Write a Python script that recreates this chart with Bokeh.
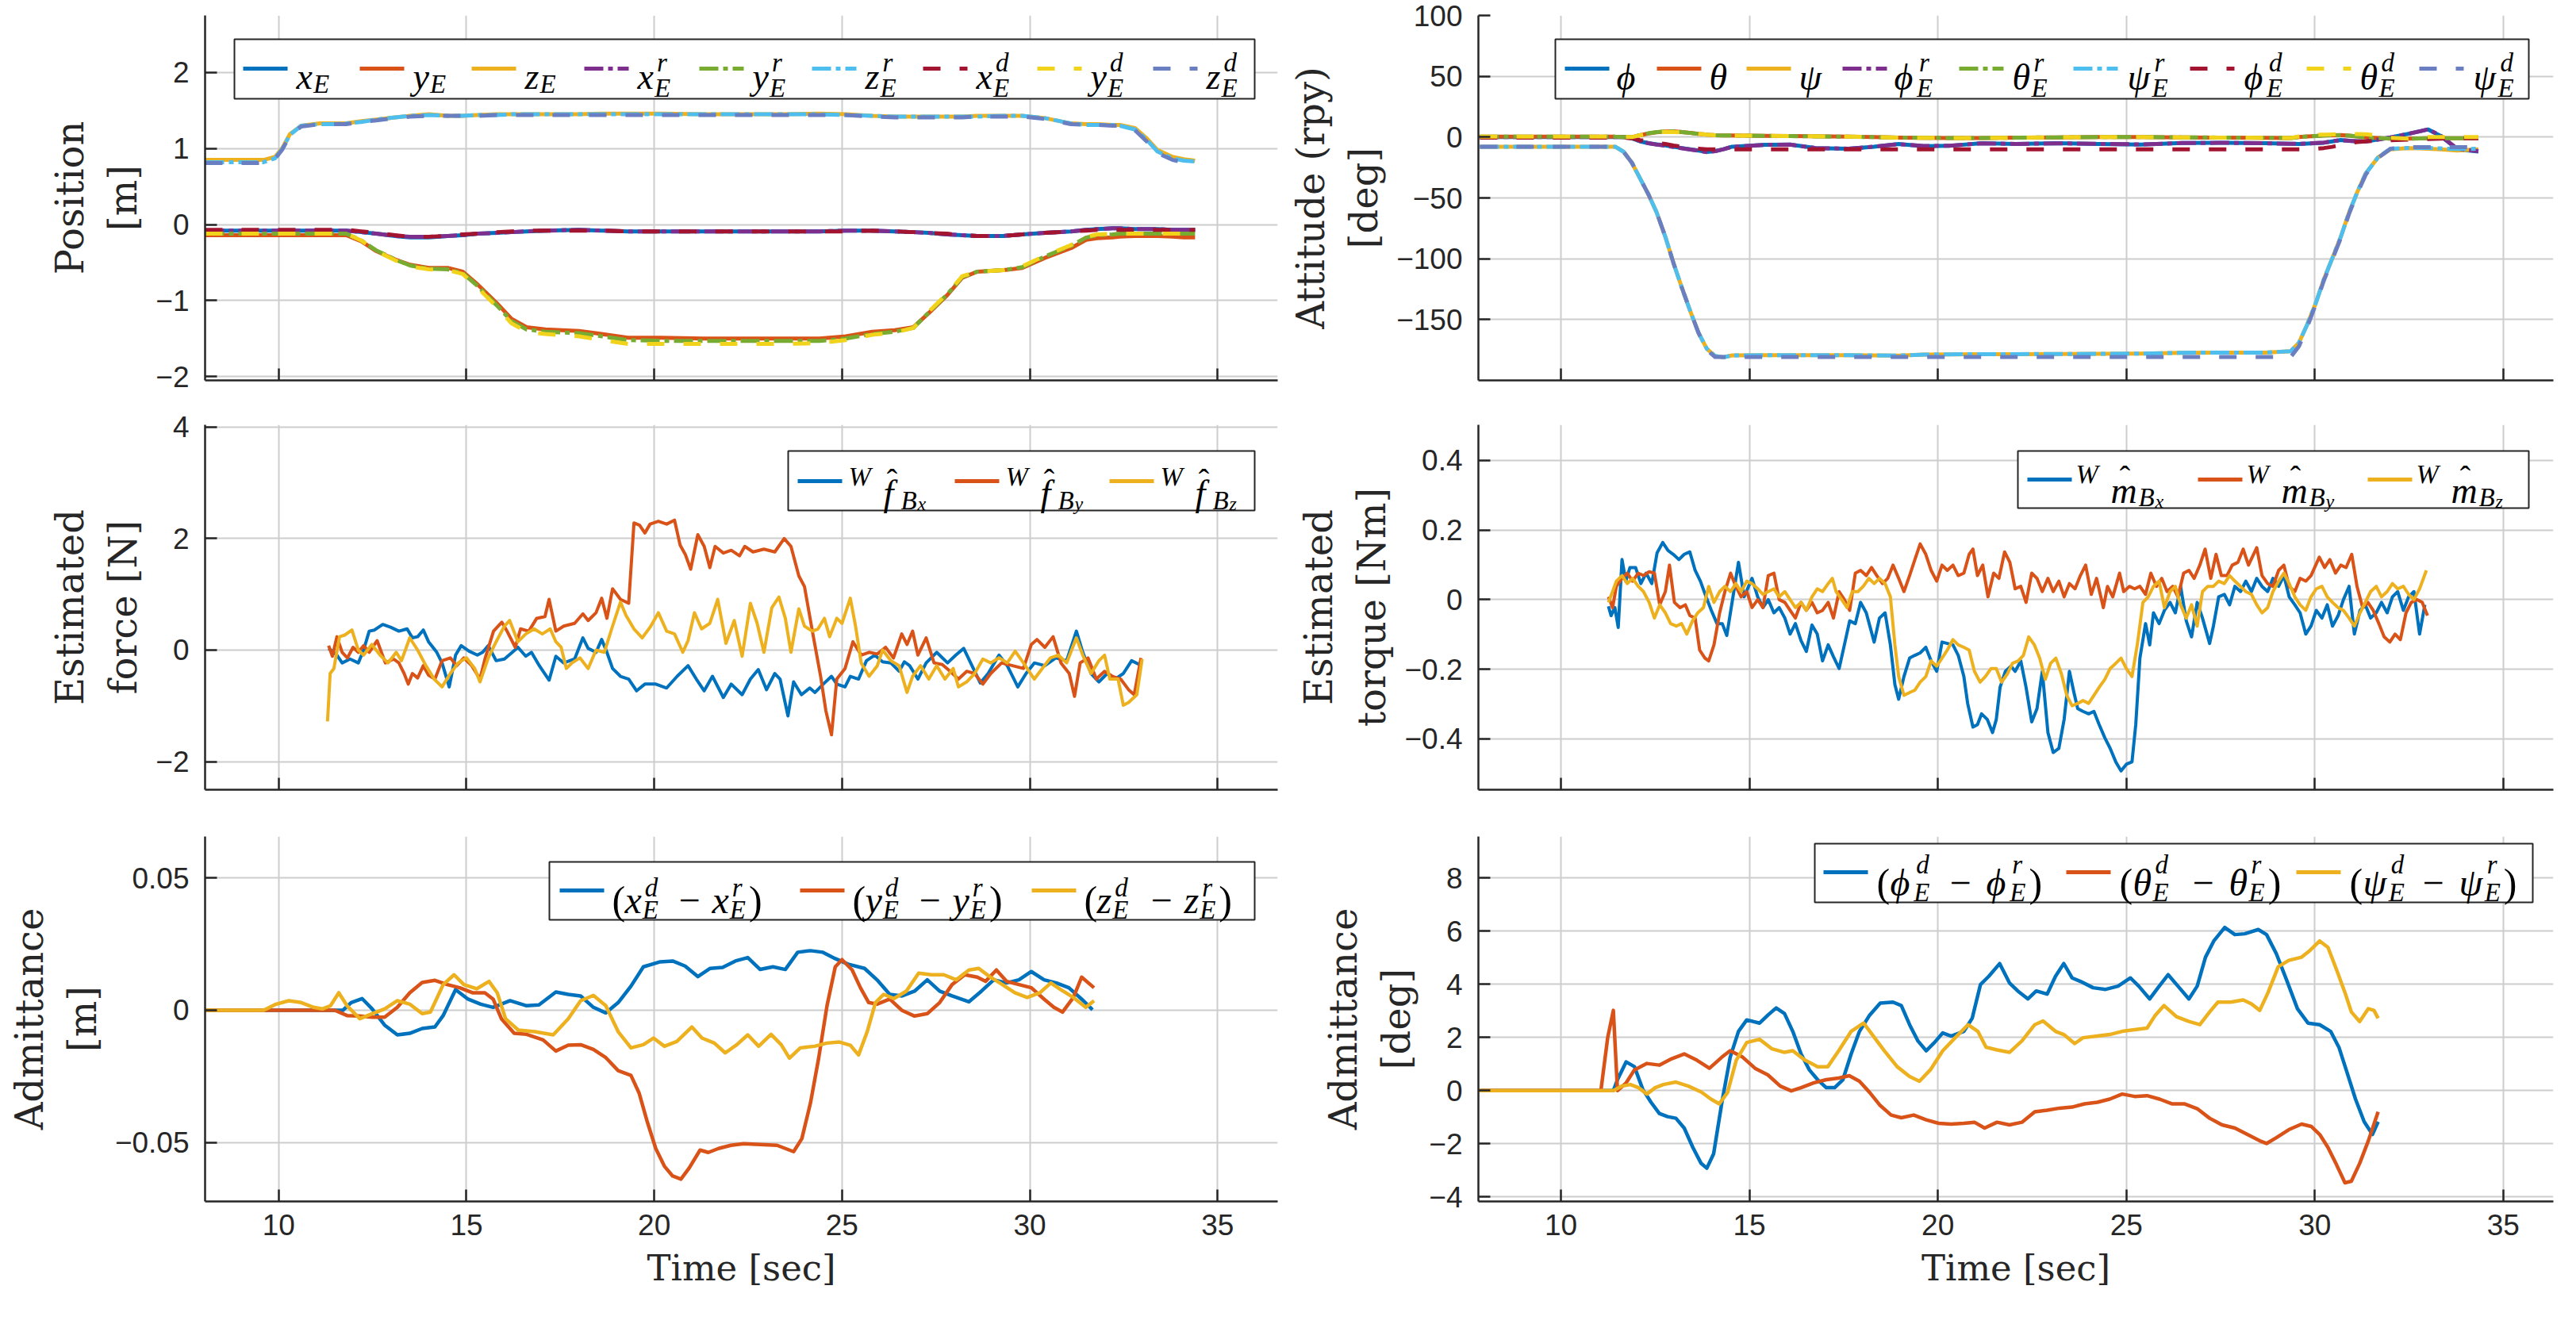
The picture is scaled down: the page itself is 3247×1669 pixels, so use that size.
from bokeh.plotting import figure
from bokeh.layouts import gridplot
from bokeh.models import FixedTicker, BoxAnnotation, Label, Arrow, Range1d
from bokeh.embed import file_html
from bokeh.resources import INLINE

BLUE, ORANGE, YELLOW = "#0072BD", "#D95319", "#EDB120"
PURPLE, GREEN, CYAN = "#7E2F8E", "#77AC30", "#4DBEEE"
DRED, BYELLOW, PERI = "#A2142F", "#F2D31B", "#6A7EC2"
AXC = "#262626"
GRIDC = "#cdcdcd"
DASH_R = "24 6 6 6"
DASH_D = "22 24"

time_ticks = [10, 15, 20, 25, 30, 35]

# ---------------- Position (top-left) ----------------
t_pos = [8.04, 9.6, 9.9, 10.1, 10.3, 10.6, 11.1, 11.5, 11.8, 12.2, 12.6, 13.1, 13.5, 14.0, 14.5, 14.9, 15.3,
         15.8, 16.2, 16.6, 17.1, 18.0, 18.6, 19.3, 20.2, 21.3, 22.4, 23.5, 24.4, 25.1, 25.8, 26.4, 26.9, 27.3,
         27.8, 28.2, 28.6, 29.3, 29.8, 30.4, 31.1, 31.5, 31.8, 32.2, 32.4, 32.8, 33.1, 33.4, 33.8, 34.1, 34.4]
x_E = [-0.08, -0.08, -0.08, -0.08, -0.08, -0.08, -0.08, -0.08, -0.08, -0.10, -0.12, -0.15, -0.17, -0.17, -0.15,
       -0.14, -0.12, -0.11, -0.10, -0.09, -0.08, -0.07, -0.08, -0.09, -0.09, -0.09, -0.09, -0.09, -0.09, -0.08,
       -0.08, -0.09, -0.10, -0.11, -0.13, -0.14, -0.15, -0.15, -0.13, -0.11, -0.09, -0.07, -0.06, -0.05, -0.05,
       -0.06, -0.06, -0.06, -0.07, -0.07, -0.07]
y_E = [-0.14, -0.14, -0.14, -0.14, -0.14, -0.14, -0.14, -0.14, -0.14, -0.22, -0.35, -0.46, -0.53, -0.57, -0.57,
       -0.62, -0.79, -1.03, -1.24, -1.35, -1.38, -1.40, -1.44, -1.49, -1.49, -1.50, -1.50, -1.50, -1.50, -1.47,
       -1.41, -1.39, -1.35, -1.17, -0.93, -0.70, -0.62, -0.60, -0.57, -0.44, -0.31, -0.20, -0.18, -0.17, -0.16,
       -0.15, -0.15, -0.15, -0.16, -0.17, -0.17]
z_E = [0.85, 0.85, 0.89, 1.01, 1.19, 1.30, 1.33, 1.33, 1.33, 1.36, 1.38, 1.41, 1.43, 1.45, 1.43, 1.43, 1.44,
       1.45, 1.45, 1.45, 1.45, 1.45, 1.46, 1.46, 1.46, 1.45, 1.45, 1.45, 1.46, 1.45, 1.43, 1.42, 1.42, 1.42,
       1.42, 1.42, 1.43, 1.43, 1.43, 1.40, 1.33, 1.32, 1.32, 1.31, 1.31, 1.27, 1.14, 0.98, 0.89, 0.86, 0.84]
x_r = [-0.08, -0.08, -0.08, -0.08, -0.08, -0.08, -0.08, -0.08, -0.08, -0.10, -0.12, -0.15, -0.16, -0.16, -0.15,
       -0.14, -0.12, -0.11, -0.10, -0.09, -0.08, -0.07, -0.08, -0.09, -0.09, -0.09, -0.09, -0.09, -0.09, -0.08,
       -0.08, -0.09, -0.10, -0.11, -0.13, -0.14, -0.15, -0.15, -0.13, -0.11, -0.09, -0.07, -0.06, -0.05, -0.05,
       -0.06, -0.06, -0.06, -0.07, -0.07, -0.07]
y_r = [-0.12, -0.12, -0.12, -0.12, -0.12, -0.12, -0.12, -0.12, -0.12, -0.21, -0.34, -0.46, -0.54, -0.58, -0.59,
       -0.64, -0.81, -1.06, -1.27, -1.38, -1.41, -1.43, -1.47, -1.52, -1.53, -1.53, -1.53, -1.53, -1.53, -1.50,
       -1.44, -1.41, -1.36, -1.16, -0.92, -0.69, -0.62, -0.60, -0.56, -0.42, -0.28, -0.17, -0.14, -0.13, -0.12,
       -0.12, -0.12, -0.12, -0.12, -0.12, -0.12]
z_r = [0.82, 0.82, 0.87, 1.00, 1.18, 1.30, 1.32, 1.32, 1.33, 1.35, 1.38, 1.41, 1.43, 1.44, 1.43, 1.43, 1.44,
       1.44, 1.45, 1.45, 1.45, 1.45, 1.45, 1.45, 1.45, 1.45, 1.45, 1.45, 1.45, 1.44, 1.43, 1.42, 1.42, 1.42,
       1.42, 1.42, 1.42, 1.43, 1.43, 1.40, 1.33, 1.31, 1.31, 1.31, 1.30, 1.25, 1.12, 0.96, 0.87, 0.84, 0.83]
x_d = [-0.07, -0.07, -0.07, -0.07, -0.07, -0.07, -0.07, -0.07, -0.07, -0.09, -0.11, -0.14, -0.16, -0.16, -0.15,
       -0.13, -0.12, -0.10, -0.09, -0.08, -0.08, -0.08, -0.08, -0.09, -0.09, -0.09, -0.09, -0.09, -0.09, -0.09,
       -0.08, -0.09, -0.10, -0.11, -0.12, -0.14, -0.15, -0.15, -0.13, -0.11, -0.09, -0.08, -0.07, -0.07, -0.07,
       -0.07, -0.07, -0.07, -0.07, -0.07, -0.07]
y_d = [-0.12, -0.12, -0.12, -0.12, -0.12, -0.12, -0.12, -0.12, -0.12, -0.21, -0.35, -0.47, -0.55, -0.59, -0.60,
       -0.65, -0.83, -1.08, -1.30, -1.41, -1.44, -1.47, -1.52, -1.57, -1.57, -1.57, -1.57, -1.57, -1.56, -1.52,
       -1.45, -1.42, -1.36, -1.15, -0.91, -0.68, -0.62, -0.60, -0.55, -0.41, -0.27, -0.16, -0.13, -0.12, -0.12,
       -0.12, -0.12, -0.12, -0.12, -0.12, -0.12]
z_d = [0.81, 0.81, 0.86, 0.99, 1.17, 1.29, 1.32, 1.32, 1.32, 1.35, 1.37, 1.40, 1.42, 1.43, 1.43, 1.43, 1.43,
       1.44, 1.44, 1.44, 1.44, 1.44, 1.44, 1.44, 1.44, 1.44, 1.44, 1.44, 1.44, 1.44, 1.42, 1.41, 1.41, 1.41,
       1.41, 1.41, 1.42, 1.42, 1.42, 1.39, 1.32, 1.31, 1.31, 1.30, 1.30, 1.24, 1.10, 0.94, 0.85, 0.82, 0.80]

# ---------------- Attitude (top-right) ----------------
t_att = [7.85, 11.44, 11.66, 11.88, 12.1, 12.32, 12.54, 12.77, 12.99, 13.21, 13.43, 13.65, 13.87, 14.09, 14.31,
         14.54, 15.42, 16.08, 16.75, 17.63, 18.3, 18.96, 19.62, 20.29, 21.17, 22.06, 23.16, 24.27, 25.38, 26.48,
         27.59, 28.69, 29.36, 29.58, 29.8, 30.02, 30.24, 30.46, 30.69, 30.91, 31.13, 31.35, 31.68, 32.01, 32.46,
         33.01, 33.34, 33.78, 34.34]
phi = [0, 0, 0, -1, -3.5, -5, -6, -6.8, -8, -9, -10, -11, -12.2, -11.5, -10, -7.9, -6.3, -6.1, -9, -9.6, -7.9,
       -5.7, -7.4, -7.2, -5, -5.7, -5, -5.7, -6.1, -4.8, -4.6, -5, -5.5, -5.7, -5.4, -5, -4.6, -3.5, -2.4, -3,
       -3.5, -3.5, -2, -0.2, 2.6, 6.3, 0.9, -10, -11.8]
theta = [0.3, 0.3, 0, 0, 1.5, 3, 4, 4.6, 4.8, 4.2, 3.5, 2.6, 2, 1.6, 1.4, 1.3, 1.0, 0.8, 0.7, 0.3, 0, -0.4, -0.6,
         -0.7, -0.7, -0.5, -0.2, 0, 0, -0.2, -0.4, -0.6, -0.7, 0, 0.5, 0.9, 1.3, 1.6, 1.7, 1.2, 0.5, -0.2, -0.8,
         -1.3, -1.3, -0.9, -0.9, -0.9, -0.9]
psi = [-7.9, -7.9, -12, -21, -34, -47, -62, -82, -104, -124, -143, -161, -174, -180, -181, -179.5, -179.3,
       -179.3, -179.3, -179.3, -179.5, -179.6, -178.8, -178.6, -178.5, -178.4, -178.3, -178.2, -178, -177.3,
       -177.1, -177.1, -176, -169, -154, -137, -117, -100, -82, -62, -45, -30, -16.6, -10, -9, -9.5, -10, -11, -10]
phi_r = [0, 0, 0, -1, -3.3, -5, -6.2, -7, -8.2, -9.2, -10.2, -11.2, -12.4, -11.6, -10, -8, -6.4, -6.2, -9,
         -9.5, -7.8, -5.8, -7.3, -7.1, -5.1, -5.6, -5.1, -5.6, -6, -4.9, -4.7, -5.1, -5.5, -5.6, -5.3, -4.9,
         -4.5, -3.4, -2.5, -3.1, -3.4, -3.4, -2.1, -0.3, 2.5, 6.4, 1.2, -9.6, -11.5]
theta_r = [0.3, 0.3, 0, 0.1, 1.6, 3.1, 4.1, 4.7, 4.8, 4.2, 3.4, 2.6, 2, 1.6, 1.4, 1.3, 1.0, 0.8, 0.6, 0.3, 0,
           -0.4, -0.6, -0.7, -0.7, -0.5, -0.2, 0, 0, -0.2, -0.4, -0.6, -0.7, 0, 0.5, 0.9, 1.3, 1.6, 1.6, 1.2,
           0.5, -0.2, -0.8, -1.3, -1.3, -0.9, -0.9, -0.9, -0.9]
psi_r = [-7.9, -7.9, -12, -21, -34, -47, -62, -82, -104, -124, -143, -161, -174, -180, -181, -179.5, -179.3,
         -179.3, -179.3, -179.3, -179.5, -179.6, -178.8, -178.6, -178.5, -178.4, -178.3, -178.2, -178, -177.3,
         -177.1, -177.1, -176, -169, -154, -137, -117, -100, -82, -62, -45, -30, -16.6, -9.5, -8.9, -8.9, -9.3,
         -9.8, -9.6]
phi_d = [-0.5, -0.5, -0.5, -1, -2.5, -3.5, -4.5, -5.7, -7, -8, -9, -9.5, -10, -10, -10, -10, -10, -10, -10, -10,
         -10, -10, -10, -10, -10, -10, -10, -10, -10, -10, -10, -10, -10, -10, -10, -9.5, -9, -8, -6.5, -5, -4,
         -3.5, -3, -2.5, -2, -1.5, -1.2, -1, -1]
theta_d = [0.3, 0.3, 0, 0, 1.5, 3, 4, 4.3, 4.1, 3.8, 3.3, 2.6, 2, 1.6, 1.4, 1.3, 1.0, 0.8, 0.7, 0.3, 0, -0.4,
           -0.6, -0.7, -0.7, -0.5, -0.2, 0, 0, -0.2, -0.4, -0.6, -0.7, 0.5, 1.5, 2, 2, 2.2, 2.4, 2.5, 2.5, 2.3,
           1.5, -0.5, -1.3, 0, 0, 0, 0]
psi_d = [-7.9, -7.9, -12, -21, -34, -47, -62, -82, -104, -124, -143, -161, -175, -180.8, -180.8, -180.8, -180.8,
         -180.8, -180.8, -180.8, -180.8, -180.8, -180.8, -180.8, -180.8, -180.8, -180.8, -180.8, -180.8, -180.8,
         -180.8, -180.8, -180.8, -172, -156, -138, -118, -101, -83, -63, -46, -31, -17, -9.5, -8.3, -8.3, -8.3,
         -8.3, -8.3]

# ---------------- Estimated force (middle-left): (time, value) ----------------
force_x = [(11.33, 0.03), (11.55, -0.09), (11.69, -0.23), (11.90, -0.16), (12.12, -0.23), (12.26, 0.00),
           (12.41, 0.34), (12.55, 0.36), (12.77, 0.46), (12.98, 0.41), (13.20, 0.34), (13.42, 0.38),
           (13.56, 0.22), (13.70, 0.24), (13.85, 0.36), (13.99, 0.15), (14.21, -0.04), (14.35, -0.23),
           (14.54, -0.66), (14.71, -0.09), (14.86, 0.08), (15.07, -0.02), (15.29, -0.09), (15.43, -0.04),
           (15.58, 0.08), (15.79, -0.19), (16.01, -0.16), (16.22, -0.04), (16.37, 0.05), (16.58, -0.11),
           (16.73, -0.04), (16.94, -0.28), (17.20, -0.54), (17.38, -0.11), (17.59, -0.23), (17.88, -0.16),
           (18.10, 0.22), (18.24, 0.03), (18.45, -0.04), (18.60, 0.19), (18.74, -0.04), (18.89, -0.33),
           (19.10, -0.47), (19.32, -0.52), (19.53, -0.73), (19.75, -0.61), (20.04, -0.61), (20.33, -0.68),
           (20.61, -0.47), (20.90, -0.28), (21.12, -0.52), (21.33, -0.73), (21.55, -0.47), (21.84, -0.85),
           (22.05, -0.61), (22.34, -0.80), (22.56, -0.52), (22.77, -0.35), (22.99, -0.71), (23.21, -0.42),
           (23.35, -0.52), (23.56, -1.18), (23.71, -0.57), (23.92, -0.80), (24.14, -0.68), (24.28, -0.76),
           (24.50, -0.61), (24.72, -0.47), (24.86, -0.61), (25.08, -0.66), (25.22, -0.47), (25.44, -0.52),
           (25.65, -0.19), (25.87, -0.09), (26.08, -0.21), (26.30, -0.23), (26.52, -0.38), (26.66, -0.21),
           (26.80, -0.28), (27.02, -0.52), (27.24, -0.23), (27.52, -0.04), (27.81, -0.23), (28.03, -0.09),
           (28.24, 0.03), (28.46, -0.28), (28.68, -0.59), (28.89, -0.42), (29.18, -0.09), (29.40, -0.28),
           (29.68, -0.66), (29.90, -0.42), (30.12, -0.23), (30.40, -0.28), (30.69, -0.14), (30.98, -0.19),
           (31.24, 0.34), (31.41, -0.04), (31.63, -0.42), (31.84, -0.57), (32.06, -0.42), (32.27, -0.52),
           (32.49, -0.42), (32.71, -0.19), (32.92, -0.26)]
force_y = [(11.33, 0.08), (11.43, -0.11), (11.55, 0.24), (11.69, -0.04), (11.83, -0.14), (11.98, 0.05),
           (12.12, -0.04), (12.26, 0.08), (12.41, -0.04), (12.62, 0.17), (12.84, -0.23), (13.06, -0.16),
           (13.20, -0.23), (13.34, -0.42), (13.45, -0.61), (13.56, -0.42), (13.70, -0.50), (13.85, -0.28),
           (13.99, -0.45), (14.16, -0.52), (14.35, -0.19), (14.57, -0.14), (14.74, -0.28), (14.93, -0.14),
           (15.14, -0.28), (15.36, -0.52), (15.50, -0.14), (15.72, 0.34), (15.94, 0.50), (16.08, 0.34),
           (16.30, 0.05), (16.44, 0.38), (16.66, 0.34), (16.87, 0.57), (17.09, 0.60), (17.20, 0.91),
           (17.38, 0.34), (17.59, 0.43), (17.88, 0.48), (18.10, 0.65), (18.24, 0.53), (18.45, 0.67),
           (18.60, 0.93), (18.74, 0.57), (18.89, 1.10), (19.10, 0.91), (19.32, 0.84), (19.46, 2.28),
           (19.61, 2.24), (19.75, 2.10), (19.89, 2.26), (20.11, 2.31), (20.33, 2.26), (20.54, 2.33),
           (20.69, 1.88), (20.83, 1.71), (20.97, 1.45), (21.16, 2.07), (21.33, 1.86), (21.48, 1.48),
           (21.62, 1.86), (21.84, 1.74), (22.05, 1.79), (22.27, 1.69), (22.41, 1.86), (22.63, 1.76),
           (22.92, 1.81), (23.21, 1.76), (23.46, 2.00), (23.64, 1.86), (23.85, 1.33), (24.00, 1.14),
           (24.21, 0.34), (24.43, -0.47), (24.57, -1.09), (24.72, -1.52), (24.86, -0.52), (25.08, -0.33),
           (25.29, 0.15), (25.51, -0.09), (25.72, -0.04), (25.94, -0.07), (26.16, 0.05), (26.37, -0.14),
           (26.59, 0.29), (26.73, 0.10), (26.88, 0.34), (27.02, -0.09), (27.24, 0.22), (27.45, -0.23),
           (27.67, -0.26), (27.88, -0.38), (28.10, -0.52), (28.32, -0.38), (28.53, -0.42), (28.75, -0.61),
           (28.96, -0.42), (29.25, -0.23), (29.54, -0.28), (29.83, -0.33), (30.04, 0.10), (30.19, 0.19),
           (30.40, 0.05), (30.62, 0.24), (30.83, -0.23), (31.05, -0.42), (31.19, -0.83), (31.34, -0.23),
           (31.55, -0.14), (31.77, -0.52), (31.99, -0.38), (32.20, -0.47), (32.42, -0.52), (32.63, -0.71),
           (32.78, -0.80), (32.96, -0.14)]
force_z = [(11.30, -1.28), (11.37, -0.42), (11.47, -0.33), (11.62, 0.24), (11.76, 0.27), (11.95, 0.36),
           (12.12, 0.00), (12.26, -0.09), (12.48, 0.10), (12.70, -0.09), (12.91, -0.23), (13.13, -0.04),
           (13.27, -0.19), (13.49, 0.22), (13.70, 0.00), (13.92, -0.28), (14.14, -0.52), (14.35, -0.66),
           (14.57, -0.42), (14.78, -0.23), (15.00, -0.14), (15.22, -0.33), (15.36, -0.57), (15.58, -0.14),
           (15.79, 0.15), (16.01, 0.43), (16.15, 0.53), (16.37, 0.15), (16.58, 0.29), (16.80, 0.38),
           (17.02, 0.29), (17.23, 0.38), (17.38, 0.15), (17.52, 0.05), (17.66, -0.33), (17.81, -0.23),
           (18.02, -0.14), (18.24, -0.33), (18.45, 0.00), (18.67, -0.04), (18.89, 0.43), (19.10, 0.86),
           (19.25, 0.62), (19.46, 0.38), (19.68, 0.22), (19.89, 0.41), (20.11, 0.67), (20.33, 0.34),
           (20.54, 0.29), (20.76, -0.04), (20.90, 0.17), (21.07, 0.67), (21.26, 0.38), (21.48, 0.48),
           (21.69, 0.91), (21.91, 0.12), (22.13, 0.53), (22.34, -0.11), (22.56, 0.84), (22.74, 0.48),
           (22.92, -0.04), (23.13, 0.76), (23.32, 0.95), (23.49, 0.57), (23.64, -0.04), (23.85, 0.74),
           (24.00, 0.43), (24.21, 0.34), (24.36, 0.38), (24.53, 0.57), (24.67, 0.24), (24.86, 0.57),
           (25.00, 0.48), (25.22, 0.93), (25.36, 0.43), (25.51, -0.23), (25.72, -0.47), (25.94, -0.28),
           (26.08, 0.00), (26.30, -0.19), (26.52, -0.28), (26.73, -0.76), (26.88, -0.47), (27.09, -0.28),
           (27.31, -0.52), (27.52, -0.28), (27.74, -0.52), (27.96, -0.33), (28.10, -0.66), (28.32, -0.57),
           (28.53, -0.42), (28.75, -0.16), (28.96, -0.23), (29.18, -0.14), (29.40, -0.23), (29.61, -0.02),
           (29.83, -0.23), (30.12, -0.52), (30.33, -0.33), (30.55, -0.14), (30.76, -0.09), (30.98, -0.23),
           (31.24, 0.22), (31.41, -0.09), (31.63, -0.42), (31.84, -0.19), (31.99, -0.09), (32.13, -0.52),
           (32.35, -0.52), (32.49, -0.99), (32.63, -0.94), (32.85, -0.80), (32.99, -0.16)]

# ---------------- Estimated torque (middle-right): (time, value) ----------------
torque_x = [(11.26, -0.019), (11.33, -0.046), (11.43, -0.023), (11.52, -0.080), (11.62, 0.115), (11.72, 0.053),
            (11.83, 0.092), (11.98, 0.092), (12.12, 0.046), (12.26, 0.076), (12.41, 0.046), (12.55, 0.134),
            (12.70, 0.164), (12.84, 0.141), (12.98, 0.130), (13.13, 0.115), (13.27, 0.130), (13.42, 0.137),
            (13.56, 0.084), (13.70, 0.053), (13.85, 0.008), (13.99, -0.031), (14.14, -0.069), (14.28, -0.069),
            (14.40, -0.103), (14.54, -0.008), (14.71, 0.107), (14.86, 0.008), (15.07, 0.061), (15.22, 0.008),
            (15.36, -0.023), (15.50, 0.000), (15.65, -0.038), (15.79, -0.023), (15.94, -0.053), (16.08, -0.099),
            (16.22, -0.069), (16.37, -0.118), (16.51, -0.149), (16.66, -0.073), (16.80, -0.099), (16.94, -0.176),
            (17.09, -0.130), (17.23, -0.164), (17.38, -0.198), (17.52, -0.130), (17.66, -0.061), (17.81, -0.069),
            (17.95, -0.008), (18.10, -0.038), (18.31, -0.122), (18.45, -0.053), (18.60, -0.038), (18.74, -0.130),
            (18.86, -0.244), (18.96, -0.286), (19.10, -0.221), (19.25, -0.168), (19.39, -0.160), (19.53, -0.153),
            (19.68, -0.137), (19.82, -0.176), (19.97, -0.206), (20.11, -0.122), (20.25, -0.126), (20.40, -0.130),
            (20.54, -0.160), (20.69, -0.221), (20.79, -0.298), (20.93, -0.366), (21.05, -0.359), (21.16, -0.328),
            (21.31, -0.344), (21.45, -0.382), (21.55, -0.344), (21.65, -0.252), (21.79, -0.206), (21.94, -0.191),
            (22.05, -0.206), (22.20, -0.176), (22.34, -0.252), (22.49, -0.351), (22.63, -0.313), (22.77, -0.206),
            (22.92, -0.382), (23.06, -0.439), (23.21, -0.427), (23.35, -0.344), (23.49, -0.206), (23.61, -0.267),
            (23.71, -0.313), (23.85, -0.321), (24.00, -0.328), (24.14, -0.321), (24.28, -0.359), (24.43, -0.397),
            (24.57, -0.427), (24.72, -0.466), (24.86, -0.492), (25.00, -0.473), (25.15, -0.466), (25.25, -0.359),
            (25.36, -0.168), (25.51, -0.069), (25.62, -0.130), (25.72, -0.038), (25.87, -0.069), (26.01, -0.031),
            (26.16, -0.008), (26.30, -0.038), (26.44, 0.038), (26.59, -0.061), (26.73, -0.107), (26.88, -0.008),
            (27.02, -0.053), (27.21, -0.126), (27.31, -0.076), (27.45, 0.008), (27.60, 0.015), (27.74, -0.015),
            (27.88, 0.038), (28.03, 0.023), (28.17, 0.053), (28.32, 0.023), (28.46, 0.061), (28.60, 0.038),
            (28.75, 0.023), (28.89, 0.061), (29.04, 0.038), (29.18, 0.069), (29.32, 0.008), (29.47, -0.015),
            (29.61, -0.038), (29.76, -0.099), (29.90, -0.076), (30.04, -0.031), (30.19, -0.053), (30.33, -0.015),
            (30.47, -0.076), (30.62, -0.046), (30.76, 0.000), (30.91, 0.038), (31.05, -0.099), (31.20, -0.031),
            (31.34, -0.015), (31.48, -0.053), (31.63, -0.038), (31.77, -0.008), (31.92, -0.038), (32.06, 0.008),
            (32.20, 0.023), (32.35, -0.031), (32.49, 0.008), (32.63, 0.023), (32.78, -0.099), (32.92, -0.015)]
torque_y = [(11.26, 0.008), (11.37, -0.023), (11.47, 0.038), (11.62, 0.061), (11.76, 0.076), (11.90, 0.053),
            (12.05, 0.076), (12.19, 0.069), (12.34, 0.080), (12.48, 0.076), (12.62, -0.015), (12.77, 0.023),
            (12.88, 0.099), (13.01, -0.008), (13.16, -0.023), (13.30, -0.015), (13.42, -0.046), (13.56, -0.053),
            (13.68, -0.145), (13.82, -0.168), (13.92, -0.176), (14.06, -0.130), (14.21, -0.038), (14.35, 0.023),
            (14.50, 0.076), (14.64, 0.038), (14.78, 0.008), (14.93, 0.023), (15.07, -0.023), (15.22, 0.000),
            (15.36, -0.023), (15.50, 0.069), (15.65, 0.076), (15.79, 0.000), (15.94, -0.008), (16.08, -0.031),
            (16.22, -0.053), (16.37, -0.008), (16.51, -0.031), (16.66, -0.008), (16.80, -0.038), (16.94, -0.031),
            (17.09, -0.008), (17.23, -0.053), (17.38, 0.023), (17.52, 0.000), (17.66, -0.031), (17.81, 0.076),
            (17.95, 0.084), (18.10, 0.069), (18.24, 0.092), (18.38, 0.069), (18.53, 0.046), (18.67, 0.061),
            (18.81, 0.099), (18.96, 0.061), (19.10, 0.023), (19.25, 0.069), (19.39, 0.115), (19.53, 0.160),
            (19.68, 0.130), (19.82, 0.084), (19.97, 0.053), (20.11, 0.099), (20.25, 0.084), (20.40, 0.099),
            (20.54, 0.069), (20.69, 0.076), (20.83, 0.130), (20.93, 0.145), (21.05, 0.069), (21.19, 0.099),
            (21.33, 0.008), (21.48, 0.076), (21.62, 0.061), (21.77, 0.137), (21.91, 0.107), (22.05, 0.031),
            (22.20, 0.038), (22.34, -0.008), (22.49, 0.076), (22.63, 0.061), (22.77, 0.023), (22.92, 0.061),
            (23.06, 0.023), (23.21, 0.053), (23.35, 0.008), (23.49, 0.046), (23.64, 0.031), (23.78, 0.069),
            (23.92, 0.099), (24.07, 0.015), (24.21, 0.061), (24.39, -0.023), (24.50, 0.038), (24.64, 0.008),
            (24.82, 0.076), (24.93, 0.023), (25.08, 0.038), (25.22, 0.031), (25.36, 0.038), (25.51, 0.015),
            (25.65, 0.076), (25.80, 0.038), (25.94, 0.061), (26.08, 0.023), (26.23, 0.038), (26.37, 0.008),
            (26.52, 0.076), (26.66, 0.084), (26.80, 0.061), (26.95, 0.099), (27.09, 0.145), (27.24, 0.061),
            (27.38, 0.130), (27.52, 0.069), (27.67, 0.069), (27.81, 0.099), (27.96, 0.107), (28.10, 0.145),
            (28.24, 0.099), (28.46, 0.149), (28.60, 0.069), (28.75, 0.046), (28.89, 0.038), (29.04, 0.084),
            (29.18, 0.099), (29.32, 0.038), (29.47, 0.023), (29.61, 0.061), (29.76, 0.053), (29.90, 0.069),
            (30.12, 0.122), (30.26, 0.092), (30.40, 0.115), (30.55, 0.076), (30.69, 0.099), (30.83, 0.092),
            (30.98, 0.130), (31.12, 0.038), (31.27, -0.023), (31.41, -0.008), (31.55, -0.031), (31.70, -0.069),
            (31.84, -0.107), (31.99, -0.122), (32.13, -0.099), (32.27, -0.115), (32.42, -0.038), (32.56, -0.008),
            (32.71, 0.000), (32.85, -0.008), (32.99, -0.046)]
torque_z = [(11.26, -0.008), (11.37, 0.023), (11.47, 0.053), (11.62, 0.069), (11.76, 0.046), (11.90, 0.061),
            (12.05, 0.038), (12.19, 0.023), (12.34, -0.008), (12.48, -0.053), (12.62, -0.015), (12.77, -0.038),
            (12.91, -0.069), (13.06, -0.076), (13.20, -0.069), (13.34, -0.099), (13.49, -0.061), (13.63, -0.038),
            (13.78, -0.023), (13.92, 0.038), (14.06, -0.008), (14.21, 0.023), (14.35, 0.038), (14.50, 0.023),
            (14.64, 0.046), (14.78, 0.023), (14.93, 0.053), (15.07, 0.046), (15.22, 0.031), (15.36, 0.015),
            (15.50, 0.023), (15.65, 0.031), (15.79, 0.008), (15.94, 0.023), (16.08, 0.000), (16.22, -0.023),
            (16.37, -0.008), (16.51, -0.031), (16.66, 0.008), (16.80, 0.031), (16.94, 0.023), (17.09, 0.046),
            (17.20, 0.061), (17.30, 0.023), (17.45, 0.000), (17.59, -0.023), (17.73, 0.023), (17.88, 0.023),
            (18.02, 0.038), (18.17, 0.061), (18.31, 0.046), (18.45, 0.061), (18.60, 0.046), (18.74, 0.008),
            (18.86, -0.130), (18.96, -0.221), (19.10, -0.275), (19.25, -0.267), (19.39, -0.260), (19.53, -0.237),
            (19.68, -0.221), (19.82, -0.176), (19.97, -0.191), (20.11, -0.168), (20.25, -0.145), (20.40, -0.115),
            (20.54, -0.130), (20.69, -0.137), (20.83, -0.145), (20.97, -0.206), (21.12, -0.237), (21.26, -0.221),
            (21.41, -0.198), (21.55, -0.198), (21.69, -0.237), (21.84, -0.214), (21.98, -0.183), (22.13, -0.176),
            (22.27, -0.160), (22.41, -0.107), (22.56, -0.130), (22.70, -0.168), (22.85, -0.229), (22.99, -0.183),
            (23.13, -0.168), (23.28, -0.214), (23.42, -0.275), (23.56, -0.305), (23.71, -0.298), (23.85, -0.290),
            (24.00, -0.298), (24.14, -0.275), (24.28, -0.252), (24.43, -0.229), (24.57, -0.198), (24.72, -0.183),
            (24.86, -0.168), (25.00, -0.198), (25.15, -0.221), (25.29, -0.130), (25.44, -0.008), (25.58, 0.008),
            (25.72, 0.038), (25.87, 0.053), (26.01, -0.023), (26.16, 0.023), (26.30, 0.038), (26.44, -0.015),
            (26.59, -0.053), (26.73, -0.015), (26.88, -0.076), (27.02, 0.023), (27.16, 0.038), (27.31, 0.038),
            (27.45, 0.053), (27.60, 0.046), (27.74, 0.069), (27.88, 0.053), (28.03, 0.038), (28.17, 0.023),
            (28.32, 0.015), (28.46, -0.015), (28.60, -0.038), (28.75, -0.023), (28.89, 0.023), (29.04, 0.053),
            (29.18, 0.076), (29.32, 0.046), (29.47, 0.008), (29.61, -0.015), (29.76, -0.031), (29.90, 0.008),
            (30.04, 0.031), (30.19, 0.038), (30.33, 0.008), (30.47, -0.008), (30.62, -0.023), (30.76, -0.031),
            (30.91, -0.053), (31.05, -0.076), (31.20, -0.038), (31.34, -0.008), (31.48, 0.023), (31.63, 0.038),
            (31.77, 0.008), (31.92, 0.023), (32.06, 0.046), (32.20, 0.031), (32.35, 0.038), (32.49, 0.015),
            (32.63, 0.000), (32.78, 0.031), (32.96, 0.084)]

# ---------------- Admittance position (bottom-left): (time, value) ----------------
adm_x = [(8.04, 0), (11.71, 0), (11.93, 0.0029), (12.22, 0.0044), (12.49, 0.0005), (12.82, -0.0056),
         (13.16, -0.0093), (13.49, -0.0087), (13.82, -0.0069), (14.16, -0.0063), (14.38, -0.0020),
         (14.71, 0.0078), (15.04, 0.0042), (15.38, 0.0023), (15.71, 0.0011), (16.16, 0.0036), (16.60, 0.0017),
         (16.93, 0.0020), (17.38, 0.0069), (17.71, 0.0060), (18.04, 0.0054), (18.38, 0.0011), (18.71, -0.0010),
         (19.04, 0.0029), (19.38, 0.0091), (19.71, 0.0164), (20.16, 0.0183), (20.49, 0.0186), (20.82, 0.0167),
         (21.16, 0.0127), (21.49, 0.0158), (21.82, 0.0162), (22.16, 0.0186), (22.49, 0.0199), (22.82, 0.0154),
         (23.16, 0.0164), (23.49, 0.0154), (23.82, 0.0219), (24.16, 0.0225), (24.49, 0.0219), (24.82, 0.0195),
         (25.16, 0.0174), (25.60, 0.0158), (25.93, 0.0115), (26.27, 0.0060), (26.60, 0.0054), (26.93, 0.0072),
         (27.27, 0.0115), (27.60, 0.0072), (27.93, 0.0054), (28.38, 0.0032), (28.71, 0.0072), (29.04, 0.0115),
         (29.38, 0.0103), (29.71, 0.0115), (30.04, 0.0146), (30.38, 0.0115), (30.71, 0.0103), (31.04, 0.0085),
         (31.38, 0.0042), (31.67, 0.0002)]
adm_y = [(8.04, 0), (11.49, 0), (11.82, -0.0020), (12.16, -0.0022), (12.49, -0.0026), (12.82, -0.0026),
         (13.16, 0.0011), (13.49, 0.0066), (13.82, 0.0105), (14.16, 0.0113), (14.49, 0.0097), (14.82, 0.0085),
         (15.16, 0.0066), (15.49, 0.0066), (15.71, 0.0042), (15.93, -0.0032), (16.27, -0.0087), (16.60, -0.0091),
         (17.04, -0.0112), (17.38, -0.0154), (17.71, -0.0132), (18.04, -0.0130), (18.38, -0.0148),
         (18.71, -0.0179), (19.04, -0.0228), (19.38, -0.0246), (19.60, -0.0314), (19.82, -0.0424),
         (20.04, -0.0522), (20.27, -0.0589), (20.49, -0.0626), (20.71, -0.0638), (20.93, -0.0596),
         (21.22, -0.0528), (21.44, -0.0537), (21.71, -0.0522), (22.04, -0.0510), (22.38, -0.0504),
         (22.82, -0.0507), (23.27, -0.0510), (23.71, -0.0534), (23.93, -0.0485), (24.16, -0.0350),
         (24.38, -0.0179), (24.60, 0.0017), (24.82, 0.0164), (25.00, 0.0191), (25.27, 0.0152), (25.49, 0.0085),
         (25.71, 0.0029), (25.93, 0.0023), (26.27, 0.0042), (26.60, -0.0001), (26.93, -0.0022), (27.27, -0.0013),
         (27.60, 0.0029), (27.93, 0.0097), (28.27, 0.0134), (28.60, 0.0125), (28.82, 0.0109), (29.11, 0.0152),
         (29.38, 0.0109), (29.71, 0.0097), (30.04, 0.0085), (30.38, 0.0042), (30.64, 0.0011), (30.87, -0.0007),
         (31.16, 0.0048), (31.38, 0.0125), (31.71, 0.0085)]
adm_z = [(8.04, 0), (9.60, 0), (9.93, 0.0023), (10.27, 0.0036), (10.60, 0.0029), (10.93, 0.0011), (11.16, 0.0005),
         (11.38, 0.0017), (11.60, 0.0066), (11.82, 0.0017), (12.16, -0.0032), (12.49, -0.0013), (12.82, 0.0005),
         (13.16, 0.0036), (13.49, 0.0023), (13.82, -0.0013), (14.04, -0.0007), (14.38, 0.0097), (14.67, 0.0134),
         (14.93, 0.0097), (15.27, 0.0081), (15.60, 0.0109), (15.82, 0.0066), (16.04, -0.0032), (16.38, -0.0075),
         (16.82, -0.0081), (17.31, -0.0093), (17.71, -0.0032), (18.04, 0.0036), (18.38, 0.0056), (18.71, 0.0017),
         (19.04, -0.0081), (19.38, -0.0142), (19.71, -0.0130), (19.98, -0.0105), (20.27, -0.0136),
         (20.60, -0.0118), (21.00, -0.0063), (21.27, -0.0105), (21.60, -0.0124), (21.89, -0.0161),
         (22.20, -0.0130), (22.49, -0.0093), (22.78, -0.0136), (23.11, -0.0091), (23.38, -0.0130),
         (23.60, -0.0181), (23.89, -0.0142), (24.27, -0.0136), (24.60, -0.0124), (24.93, -0.0120),
         (25.22, -0.0132), (25.44, -0.0169), (25.67, -0.0081), (25.89, 0.0029), (26.11, 0.0060), (26.38, 0.0044),
         (26.71, 0.0072), (27.04, 0.0140), (27.38, 0.0134), (27.71, 0.0134), (28.04, 0.0115), (28.38, 0.0152),
         (28.64, 0.0158), (28.93, 0.0127), (29.27, 0.0097), (29.60, 0.0066), (29.93, 0.0048), (30.27, 0.0066),
         (30.56, 0.0103), (30.82, 0.0078), (31.16, 0.0048), (31.49, 0.0011), (31.71, 0.0036)]

# ---------------- Admittance attitude (bottom-right): (time, value) ----------------
adm_phi = [(7.85, 0), (11.39, 0), (11.50, 0.41), (11.73, 1.08), (11.95, 0.90), (12.17, 0.05), (12.39, -0.44),
           (12.61, -0.86), (12.83, -0.98), (13.05, -1.04), (13.27, -1.41), (13.50, -2.14), (13.72, -2.74),
           (13.87, -2.92), (14.05, -2.38), (14.27, -0.44), (14.49, 1.26), (14.71, 2.23), (14.93, 2.66),
           (15.27, 2.54), (15.49, 2.84), (15.71, 3.11), (15.93, 2.90), (16.15, 2.23), (16.37, 1.38), (16.59, 0.78),
           (16.81, 0.41), (17.04, 0.11), (17.26, 0.11), (17.48, 0.41), (17.70, 1.38), (17.92, 2.23), (18.19, 2.84),
           (18.47, 3.29), (18.81, 3.33), (19.03, 3.20), (19.25, 2.48), (19.47, 1.87), (19.69, 1.50), (19.91, 1.81),
           (20.13, 2.17), (20.35, 2.05), (20.69, 2.23), (20.91, 2.72), (21.13, 3.99), (21.35, 4.30), (21.64, 4.78),
           (21.90, 4.05), (22.12, 3.75), (22.39, 3.45), (22.61, 3.75), (22.90, 3.63), (23.12, 4.30), (23.34, 4.78),
           (23.56, 4.24), (23.78, 4.11), (24.12, 3.87), (24.45, 3.81), (24.78, 3.93), (25.11, 4.24), (25.33, 3.93),
           (25.62, 3.45), (25.84, 3.87), (26.11, 4.36), (26.37, 3.93), (26.66, 3.45), (26.88, 3.93), (27.10, 5.02),
           (27.32, 5.63), (27.61, 6.14), (27.88, 5.87), (28.14, 5.90), (28.50, 6.06), (28.72, 5.87), (28.98, 5.15),
           (29.25, 4.17), (29.54, 3.08), (29.82, 2.54), (30.13, 2.48), (30.42, 2.23), (30.64, 1.63), (30.86, 0.66),
           (31.08, -0.32), (31.31, -1.17), (31.53, -1.65), (31.68, -1.17)]
adm_theta = [(7.85, 0), (11.06, 0), (11.24, 1.99), (11.39, 3.02), (11.50, 0), (11.73, 0.29), (11.95, 0.78),
             (12.28, 1.02), (12.61, 0.96), (12.94, 1.20), (13.27, 1.38), (13.61, 1.14), (13.94, 0.84), (14.27, 1.26),
             (14.49, 1.50), (14.82, 1.26), (15.15, 0.84), (15.49, 0.59), (15.82, 0.17), (16.11, -0.01), (16.37, 0.11),
             (16.70, 0.29), (17.04, 0.41), (17.37, 0.47), (17.65, 0.56), (17.92, 0.35), (18.19, -0.07),
             (18.47, -0.56), (18.76, -0.92), (19.03, -1.02), (19.36, -0.92), (19.69, -1.10), (20.02, -1.23),
             (20.35, -1.26), (20.69, -1.23), (20.97, -1.19), (21.24, -1.41), (21.57, -1.19), (21.90, -1.29),
             (22.23, -1.19), (22.57, -0.80), (22.90, -0.74), (23.23, -0.66), (23.56, -0.62), (23.89, -0.50),
             (24.23, -0.44), (24.56, -0.32), (24.89, -0.13), (25.22, -0.22), (25.55, -0.19), (25.88, -0.32),
             (26.22, -0.50), (26.55, -0.50), (26.88, -0.68), (27.21, -1.04), (27.54, -1.29), (27.88, -1.41),
             (28.21, -1.65), (28.54, -1.89), (28.72, -1.99), (28.98, -1.77), (29.31, -1.47), (29.65, -1.26),
             (29.91, -1.35), (30.13, -1.65), (30.35, -2.14), (30.58, -2.80), (30.80, -3.47), (30.97, -3.41),
             (31.19, -2.74), (31.42, -1.89), (31.68, -0.80)]
adm_psi = [(7.85, 0), (11.39, 0), (11.62, 0.17), (11.84, 0.23), (12.06, 0.11), (12.28, -0.13), (12.50, 0.11),
           (12.72, 0.23), (13.05, 0.32), (13.38, 0.17), (13.72, -0.05), (13.98, -0.32), (14.20, -0.50),
           (14.42, -0.07), (14.65, 1.14), (14.93, 1.81), (15.27, 1.93), (15.60, 1.57), (15.93, 1.44), (16.15, 1.50),
           (16.48, 1.14), (16.81, 0.90), (17.08, 0.90), (17.37, 1.50), (17.70, 2.23), (18.03, 2.54), (18.32, 1.99),
           (18.58, 1.50), (18.92, 0.90), (19.25, 0.53), (19.51, 0.35), (19.80, 0.78), (20.13, 1.50), (20.46, 1.99),
           (20.80, 2.48), (21.06, 2.23), (21.28, 1.63), (21.57, 1.53), (21.90, 1.44), (22.23, 1.87), (22.57, 2.48),
           (22.79, 2.62), (23.12, 2.23), (23.34, 2.11), (23.63, 1.77), (23.85, 1.99), (24.23, 2.05), (24.56, 2.11),
           (24.89, 2.23), (25.22, 2.29), (25.55, 2.35), (25.77, 2.84), (26.00, 3.20), (26.33, 2.78), (26.66, 2.60),
           (26.95, 2.48), (27.21, 2.96), (27.43, 3.33), (27.77, 3.33), (28.10, 3.41), (28.32, 3.26), (28.54, 3.02),
           (28.76, 3.69), (29.03, 4.66), (29.31, 4.90), (29.65, 5.02), (29.87, 5.27), (30.13, 5.63), (30.35, 5.39),
           (30.58, 4.54), (30.80, 3.69), (30.97, 2.96), (31.19, 2.60), (31.42, 3.08), (31.57, 3.02), (31.68, 2.72)]

# ---------------- layout geometry (page px) ----------------
FW = [1352, 1355]
FH = 460
FL_PAGE = [266, 1869]
FT_PAGE = [27, 543, 1062]
MB_L = [258, 241]
MB_R = [10, 10]
MB_T = [19, 28, 31]
MB_B = [28, 28, 130]
XR = [(8.04, 36.6), (7.81, 36.33)]


def tick_text(v):
    s = f"{abs(v):g}"
    return ("\u2212" + s) if v < 0 else s


def make_panel(col, row, yr, yticks, ylabel):
    p = figure(frame_width=FW[col], frame_height=FH, x_range=Range1d(*XR[col]), y_range=Range1d(*yr),
               output_backend="svg", toolbar_location=None, tools="",
               min_border_left=MB_L[col], min_border_right=MB_R[col],
               min_border_top=MB_T[row], min_border_bottom=MB_B[row])
    p.outline_line_color = None
    p.background_fill_color = "white"
    p.border_fill_color = "white"
    p.xaxis.ticker = FixedTicker(ticks=time_ticks)
    p.yaxis.ticker = FixedTicker(ticks=yticks)
    p.yaxis.major_label_overrides = {v: tick_text(v) for v in yticks}
    for ax in (p.xaxis[0], p.yaxis[0]):
        ax.axis_line_color = AXC
        ax.axis_line_width = 2.5
        ax.major_tick_line_color = AXC
        ax.major_tick_line_width = 2.5
        ax.major_tick_in = 15
        ax.major_tick_out = 0
        ax.minor_tick_line_color = None
        ax.major_label_text_font = "Liberation Sans"
        ax.major_label_text_font_size = "37px"
        ax.major_label_text_color = AXC
        ax.axis_label_text_font = "DejaVu Serif"
        ax.axis_label_text_font_style = "normal"
        ax.axis_label_text_color = AXC
    p.yaxis.major_label_standoff = 20
    p.yaxis.axis_label = ylabel
    p.yaxis.axis_label_text_font_size = "48px"
    p.yaxis.axis_label_standoff = 10
    if row == 2:
        p.xaxis.major_label_standoff = 16
        p.xaxis.major_label_overrides = {v: str(v) for v in time_ticks}
        p.xaxis.axis_label = "Time [sec]"
        p.xaxis.axis_label_text_font_size = "45px"
        p.xaxis.axis_label_standoff = 12
    else:
        # tick marks only, labels not painted
        p.xaxis.major_label_standoff = 0
        p.xaxis.major_label_text_font_size = "2px"
        p.xaxis.major_label_text_color = None
    for g in (p.xgrid[0], p.ygrid[0]):
        g.grid_line_color = GRIDC
        g.grid_line_width = 2
    p._geom = (col, row, yr)
    return p


def to_data(p, px, py):
    col, row, yr = p._geom
    x0, x1 = XR[col]
    x = x0 + (px - FL_PAGE[col]) / FW[col] * (x1 - x0)
    y = yr[1] - (py - FT_PAGE[row]) / FH * (yr[1] - yr[0])
    return x, y


def draw(p, t, v, color, width, dash=None):
    n = min(len(t), len(v))
    kw = dict(line_color=color, line_width=width, line_join="round", line_cap="butt")
    if dash:
        kw["line_dash"] = dash
    p.line(list(t[:n]), list(v[:n]), **kw)


def draw_pairs(p, pairs, color, width):
    draw(p, [a for a, _ in pairs], [b for _, b in pairs], color, width)


LEG_FONT = "Liberation Serif, DejaVu Serif, serif"


def add_legend(p, box, sample_y, items):
    l, t, r, b = box
    x0, y0 = to_data(p, l, b)
    x1, y1 = to_data(p, r, t)
    p.add_layout(BoxAnnotation(left=x0, right=x1, bottom=y0, top=y1, fill_color="white", fill_alpha=1.0,
                               line_color=AXC, line_width=2, line_alpha=1.0))
    for S, color, dash, pieces in items:
        xs, ys = to_data(p, S, sample_y)
        xe, _ = to_data(p, S + 56, sample_y)
        kw = dict(line_color=color, line_width=5)
        if dash:
            kw["line_dash"] = dash
        p.add_layout(Arrow(start=None, end=None, x_start=xs, y_start=ys, x_end=xe, y_end=ys, **kw))
        for dx, dy, text, size, style, align in pieces:
            x, y = to_data(p, S + dx, sample_y + dy)
            p.add_layout(Label(x=x, y=y, text=text, text_font=LEG_FONT, text_font_size=f"{size}px",
                               text_font_style=style, text_align=align, text_baseline="alphabetic",
                               text_color="black"))


I, N = "italic", "normal"
PHI, THETA, PSI = "\u03d5", "\u03b8", "\u03c8"
# approximate advance widths (em) of the italic glyphs, used to place sub/superscripts
WID = {"x": 0.444, "y": 0.444, "z": 0.389, "f": 0.278, "m": 0.722, PHI: 0.60, THETA: 0.50, PSI: 0.65}
SCR = 33


def tl_plain(L):
    m, x = 46, 67
    w = WID[L] * m
    return [(x, 10, L, m, I, "left"), (x + w + 1, 19, "E", SCR, I, "left")]


def tl_sup(L, s):
    m, x = 46, 67
    w = WID[L] * m
    return [(x, 10, L, m, I, "left"), (x + w + 4, -8, s, SCR, I, "left"), (x + w + 1, 24, "E", SCR, I, "left")]


def tr_plain(G, x):
    return [(x, 11, G, 46, I, "left")]


def tr_sup(G, s, x):
    w = WID[G] * 46
    return [(x, 11, G, 46, I, "left"), (x + w + 4, -8, s, SCR, I, "left"), (x + w + 1, 24, "E", SCR, I, "left")]


def ml_piece(sub):
    return [(64, -6, "W", 34, I, "left"), (108, 15, "f", 46, I, "left"), (119, -1, "\u02c6", 40, N, "center"),
            (130, 24, "B", SCR, I, "left"), (151, 28, sub, 24, I, "left")]


def mr_piece(sub):
    return [(61, -7, "W", 34, I, "left"), (105, 14, "m", 46, I, "left"), (123, -3, "\u02c6", 40, N, "center"),
            (140, 22, "B", SCR, I, "left"), (161, 27, sub, 24, I, "left")]


def paren_piece(L, open_x, main_x, minus_x, main2_x, dy_main, dy_sup, dy_sub):
    m = 48
    w = WID[L] * m
    e = 0.611 * SCR
    return [(open_x, dy_main, "(", 50, N, "left"), (main_x, dy_main, L, m, I, "left"),
            (main_x + w + 4, dy_sup, "d", SCR, I, "left"), (main_x + w + 1, dy_sub, "E", SCR, I, "left"),
            (minus_x, dy_main, "\u2212", m, N, "left"), (main2_x, dy_main, L, m, I, "left"),
            (main2_x + w + 4, dy_sup, "r", SCR, I, "left"), (main2_x + w + 1, dy_sub, "E", SCR, I, "left"),
            (main2_x + w + e + 5, dy_main, ")", 50, N, "left")]


def bl_piece(L):
    return paren_piece(L, 66, 82, 150, 192, 12, -4, 24)


def br_piece(G):
    return paren_piece(G, 67, 84, 159, 205, 13, -10, 25)


# ---------------- panels ----------------
p_pos = make_panel(0, 0, (-2.05, 2.75), [-2, -1, 0, 1, 2], "Position\n[m]")
for v, c in ((x_E, BLUE), (y_E, ORANGE), (z_E, YELLOW)):
    draw(p_pos, t_pos, v, c, 5)
for v, c in ((x_r, PURPLE), (y_r, GREEN), (z_r, CYAN)):
    draw(p_pos, t_pos, v, c, 5, DASH_R)
for v, c in ((x_d, DRED), (y_d, BYELLOW), (z_d, PERI)):
    draw(p_pos, t_pos, v, c, 5, DASH_D)
add_legend(p_pos, (303, 57, 1589, 132), 94, [
    (314, BLUE, None, tl_plain("x")), (461, ORANGE, None, tl_plain("y")), (602, YELLOW, None, tl_plain("z")),
    (744, PURPLE, DASH_R, tl_sup("x", "r")), (889, GREEN, DASH_R, tl_sup("y", "r")),
    (1031, CYAN, DASH_R, tl_sup("z", "r")), (1171, DRED, DASH_D, tl_sup("x", "d")),
    (1315, BYELLOW, DASH_D, tl_sup("y", "d")), (1461, PERI, DASH_D, tl_sup("z", "d"))])

p_att = make_panel(1, 0, (-200, 100), [-150, -100, -50, 0, 50, 100], "Attitude (rpy)\n[deg]")
for v, c in ((phi, BLUE), (theta, ORANGE), (psi, YELLOW)):
    draw(p_att, t_att, v, c, 5)
for v, c in ((phi_r, PURPLE), (theta_r, GREEN), (psi_r, CYAN)):
    draw(p_att, t_att, v, c, 5, DASH_R)
for v, c in ((phi_d, DRED), (theta_d, BYELLOW), (psi_d, PERI)):
    draw(p_att, t_att, v, c, 5, DASH_D)
add_legend(p_att, (1966, 57, 3193, 132), 94, [
    (1978, BLUE, None, tr_plain(PHI, 65)), (2094, ORANGE, None, tr_plain(THETA, 66)),
    (2207, YELLOW, None, tr_plain(PSI, 66)),
    (2328, PURPLE, DASH_R, tr_sup(PHI, "r", 65)), (2475, GREEN, DASH_R, tr_sup(THETA, "r", 67)),
    (2619, CYAN, DASH_R, tr_sup(PSI, "r", 68)), (2766, DRED, DASH_D, tr_sup(PHI, "d", 68)),
    (2913, BYELLOW, DASH_D, tr_sup(THETA, "d", 67)), (3055, PERI, DASH_D, tr_sup(PSI, "d", 68))])

p_frc = make_panel(0, 1, (-2.504, 4.04), [-2, 0, 2, 4], "Estimated\nforce [N]")
for pairs, c in ((force_x, BLUE), (force_y, ORANGE), (force_z, YELLOW)):
    draw_pairs(p_frc, pairs, c, 4)
add_legend(p_frc, (1001, 576, 1589, 651), 614, [
    (1013, BLUE, None, ml_piece("x")), (1211, ORANGE, None, ml_piece("y")), (1406, YELLOW, None, ml_piece("z"))])

p_trq = make_panel(1, 1, (-0.546, 0.502), [-0.4, -0.2, 0, 0.2, 0.4], "Estimated\ntorque [Nm]")
for pairs, c in ((torque_x, BLUE), (torque_y, ORANGE), (torque_z, YELLOW)):
    draw_pairs(p_trq, pairs, c, 4)
add_legend(p_trq, (2549, 576, 3193, 648), 612, [
    (2561, BLUE, None, mr_piece("x")), (2776, ORANGE, None, mr_piece("y")), (2990, YELLOW, None, mr_piece("z"))])

p_adp = make_panel(0, 2, (-0.0722, 0.0656), [-0.05, 0, 0.05], "Admittance\n[m]")
for pairs, c in ((adm_x, BLUE), (adm_y, ORANGE), (adm_z, YELLOW)):
    draw_pairs(p_adp, pairs, c, 4.5)
add_legend(p_adp, (700, 1094, 1589, 1167), 1130, [
    (713, BLUE, None, bl_piece("x")), (1016, ORANGE, None, bl_piece("y")), (1308, YELLOW, None, bl_piece("z"))])

p_ada = make_panel(1, 2, (-4.17, 9.56), [-4, -2, 0, 2, 4, 6, 8], "Admittance\n[deg]")
for pairs, c in ((adm_phi, BLUE), (adm_theta, ORANGE), (adm_psi, YELLOW)):
    draw_pairs(p_ada, pairs, c, 4.5)
add_legend(p_ada, (2293, 1071, 3198, 1145), 1107, [
    (2304, BLUE, None, br_piece(PHI)), (2610, ORANGE, None, br_piece(THETA)), (2900, YELLOW, None, br_piece(PSI))])

grid = gridplot([[p_pos, p_att], [p_frc, p_trq], [p_adp, p_ada]], toolbar_location=None)
open("out.html", "w").write(file_html(grid, INLINE))
